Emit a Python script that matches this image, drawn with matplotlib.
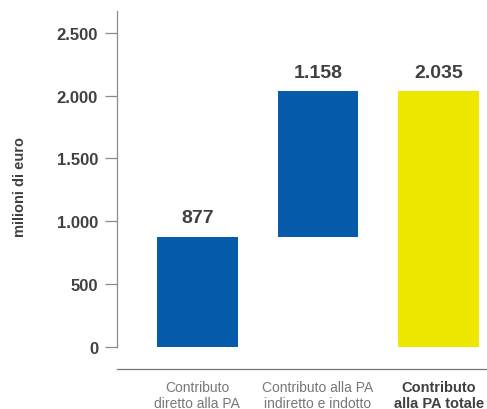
import matplotlib.pyplot as plt
import matplotlib.transforms as mtransforms

plt.rcParams['font.family'] = ['Liberation Sans', 'DejaVu Sans']

categories = ["Contributo\ndiretto alla PA", "Contributo alla PA\nindiretto e indotto", "Contributo\nalla PA totale"]
values = [877, 1158, 2035]
bottoms = [0, 877, 0]
labels = ["877", "1.158", "2.035"]
colors = ["#065BAA", "#065BAA", "#EEE800"]
yticks = [0, 500, 1000, 1500, 2000, 2500]
yticklabels = ["0", "500", "1.000", "1.500", "2.000", "2.500"]

fig = plt.figure(figsize=(4.87, 4.10), dpi=100)
ax = fig.add_axes([0.2402, 0.152, 0.758, 0.8188])

x = range(len(values))
ax.bar(x, values, bottom=bottoms, width=0.67, color=colors)
for i in x:
    ax.text(i, bottoms[i] + values[i] + 85, labels[i], ha='center', va='bottom',
            fontsize=14, fontweight='bold', color='#404040')

ax.set_xlim(-0.665, 2.393)
ax.set_ylim(0, 2675)
ax.set_yticks(yticks)
ax.set_yticklabels(yticklabels, fontsize=12, fontweight='bold', color='#404040')
ax.tick_params(axis='y', length=8.6, width=0.9, color='#8a8a8a', pad=5)

# category labels under the offset baseline
ax.set_xticks([])
trans = mtransforms.blended_transform_factory(ax.transData, ax.transAxes)
for i, cat in enumerate(categories):
    last = i == len(categories) - 1
    ax.text(i, -0.1, cat, transform=trans, ha='center', va='top', linespacing=1.15,
            fontsize=10.5 if last else 10,
            fontweight='bold' if last else 'normal',
            color='#404040' if last else '#777777')

ax.spines['top'].set_visible(False)
ax.spines['right'].set_visible(False)
ax.spines['left'].set_color('#8a8a8a')
ax.spines['left'].set_linewidth(0.9)
ax.spines['bottom'].set_color('#777777')
ax.spines['bottom'].set_linewidth(0.9)
ax.spines['bottom'].set_position(('outward', 16))

ax.set_ylabel("milioni di euro", fontsize=10.5, fontweight='bold', color='#404040')
ax.yaxis.set_label_coords(-0.245, 0.48)

fig.savefig("out.png", dpi=100)
